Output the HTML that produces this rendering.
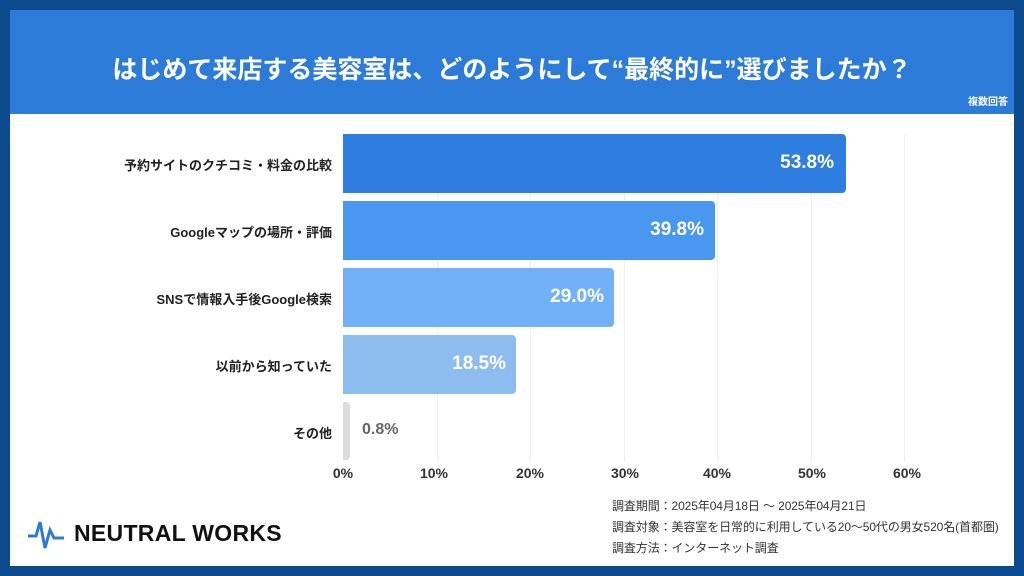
<!DOCTYPE html>
<html><head><meta charset="utf-8"><style>
body{margin:0;width:1024px;height:576px;background:#0b4a8c;font-family:"Liberation Sans","Noto Sans CJK JP",sans-serif;overflow:hidden;position:relative}
.panel{position:absolute;left:10px;top:10px;width:1004px;height:556px;background:#fff}
.hdr{position:absolute;left:10px;top:10px;width:1004px;height:104px;background:#2d7bd9}
.title{position:absolute;left:0;width:1024px;top:50px;text-align:center;color:#fff;font-size:25px;font-weight:bold}
.t{position:absolute;font-weight:bold;color:#222;font-size:13px}
.bar{position:absolute;left:343px;border-radius:0 4px 4px 0}
.v{position:absolute;color:#fff;font-weight:bold;font-size:19px;text-align:right}
.g{position:absolute;top:134px;height:328px;width:1px;background:#eee}
.tick{position:absolute;top:465px;font-size:14px;font-weight:bold;color:#333;width:60px;text-align:center}
.note{position:absolute;left:612px;font-size:12px;color:#333;letter-spacing:-0.1px}
</style></head><body>
<div class="panel"></div><div class="hdr"></div>
<div class="title">はじめて来店する美容室は、どのようにして“最終的に”選びましたか？</div>
<div style="position:absolute;right:16px;top:93px;color:#fff;font-size:10px;font-weight:bold">複数回答</div>
<div class="g" style="left:437px"></div><div class="g" style="left:530px"></div><div class="g" style="left:624px"></div><div class="g" style="left:717px"></div><div class="g" style="left:811px"></div><div class="g" style="left:904px"></div>
<div class="bar" style="top:134px;height:59px;width:503px;background:#2e7ee0"></div>
<div class="bar" style="top:201px;height:59px;width:372px;background:#4a97ef"></div>
<div class="bar" style="top:268px;height:59px;width:271px;background:#72b0f7"></div>
<div class="bar" style="top:335px;height:59px;width:173px;background:#8dbcef"></div>
<div class="bar" style="top:402px;height:58px;width:7px;background:#dcdcdc"></div>
<div class="v" style="right:190px;top:152px">53.8%</div>
<div class="v" style="right:320px;top:219px">39.8%</div>
<div class="v" style="right:420px;top:286px">29.0%</div>
<div class="v" style="right:518px;top:353px">18.5%</div>
<div class="v" style="left:362px;top:421px;color:#666;font-size:16px">0.8%</div>
<div class="t" style="right:692px;top:155px">予約サイトのクチコミ・料金の比較</div>
<div class="t" style="right:692px;top:222px">Googleマップの場所・評価</div>
<div class="t" style="right:692px;top:289px">SNSで情報入手後Google検索</div>
<div class="t" style="right:692px;top:356px">以前から知っていた</div>
<div class="t" style="right:692px;top:423px">その他</div>
<div class="tick" style="left:313px">0%</div><div class="tick" style="left:404px">10%</div><div class="tick" style="left:500px">20%</div><div class="tick" style="left:595px">30%</div><div class="tick" style="left:687px">40%</div><div class="tick" style="left:782px">50%</div><div class="tick" style="left:877px">60%</div>
<div class="note" style="top:497px">調査期間：2025年04月18日 ～ 2025年04月21日</div>
<div class="note" style="top:518px">調査対象：美容室を日常的に利用している20～50代の男女520名(首都圏)</div>
<div class="note" style="top:539px">調査方法：インターネット調査</div>
<svg style="position:absolute;left:28px;top:518px" width="40" height="34"><polyline points="0,18 8,18 12,4 17,30 22,12 26,20 36,20" fill="none" stroke="#2d7bd9" stroke-width="3"/></svg>
<div style="position:absolute;left:74px;top:520px;font-size:23px;font-weight:bold;color:#111;letter-spacing:0.3px">NEUTRAL WORKS</div>
</body></html>
